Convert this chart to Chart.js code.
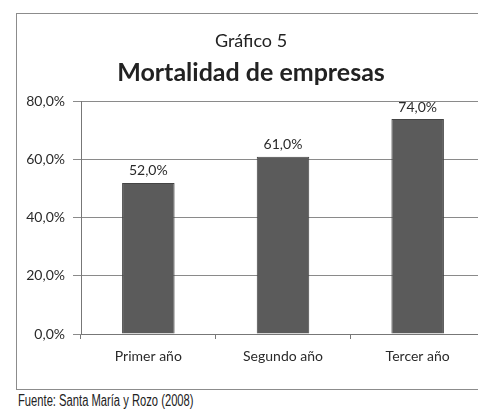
<!DOCTYPE html>
<html>
<head>
<meta charset="utf-8">
<script src="https://cdn.jsdelivr.net/npm/chart.js@4/dist/chart.umd.min.js"></script>
<style>
    html, body { margin: 0; padding: 0; background: #ffffff; overflow: hidden; }
    body { width: 478px; height: 412px; position: relative; }
    #box {
        position: absolute; left: 16px; top: 13px; width: 472px; height: 375px;
        border-left: 1px solid #8c8c8c; border-top: 1px solid #8c8c8c; border-bottom: 1px solid #8c8c8c;
    }
    #source {
        position: absolute; left: 18px; top: 392px; white-space: nowrap;
        font-family: "Liberation Sans", Arial, sans-serif; font-size: 16px; color: #222;
        transform: scaleX(0.7); transform-origin: left center;
    }
</style>
</head>
<body>
<div id="box"><canvas id="mortalidad-chart" width="472" height="375"></canvas></div>
<div id="source">Fuente: Santa María y Rozo (2008)</div>
<script>
    const categories = ['Primer año', 'Segundo año', 'Tercer año'];
    const mortalidad = [52.0, 61.0, 74.0];
    const yTicks = [0, 20, 40, 60, 80];

    const FONT = 'Lato, "Open Sans", sans-serif';

    function formatPct(v) {
        return v.toFixed(1).replace('.', ',') + '%';
    }

    // etiquetas de valor encima de cada barra
    const valueLabels = {
        id: 'valueLabels',
        afterDatasetsDraw(chart) {
            const ctx = chart.ctx;
            const meta = chart.getDatasetMeta(0);
            ctx.save();
            ctx.font = '14px ' + FONT;
            ctx.fillStyle = '#2a2a2a';
            ctx.textAlign = 'center';
            ctx.textBaseline = 'bottom';
            meta.data.forEach((bar, i) => {
                ctx.fillText(formatPct(mortalidad[i]), bar.x, bar.y - 5);
            });
            ctx.restore();
        }
    };

    new Chart(document.getElementById('mortalidad-chart'), {
        type: 'bar',
        data: {
            labels: categories,
            datasets: [{
                data: mortalidad,
                backgroundColor: '#5b5b5b',
                borderColor: '#444444',
                borderWidth: 1,
                barPercentage: 0.39,
                categoryPercentage: 1,
            }],
        },
        options: {
            responsive: false,
            animation: false,
            layout: { padding: { left: 0, right: 4, top: 0, bottom: 0 } },
            plugins: {
                legend: { display: false },
                tooltip: { enabled: false },
                title: {
                    display: true,
                    text: 'Gráfico 5',
                    color: '#222',
                    font: { family: FONT, size: 18, weight: 'normal' },
                    padding: { top: 16, bottom: 6 },
                },
                subtitle: {
                    display: true,
                    text: 'Mortalidad de empresas',
                    color: '#222',
                    font: { family: FONT, size: 25, weight: 'bold' },
                    padding: { top: 0, bottom: 14 },
                },
            },
            scales: {
                x: {
                    offset: true,
                    grid: { display: true, drawOnChartArea: false, offset: true, tickLength: 5, color: '#777' },
                    border: { color: '#777', width: 1 },
                    ticks: { color: '#2a2a2a', font: { family: FONT, size: 14 }, padding: 9 },
                    afterFit(scale) { scale.height = 55; },
                },
                y: {
                    min: 0,
                    max: 80,
                    afterBuildTicks(scale) { scale.ticks = yTicks.map((v) => ({ value: v })); },
                    grid: { color: '#8a8a8a', tickLength: 8 },
                    border: { color: '#777', width: 1 },
                    ticks: { color: '#2a2a2a', font: { family: FONT, size: 14 }, padding: 8, callback: (v) => formatPct(v) },
                    afterFit(scale) { scale.width = 64; },
                },
            },
        },
        plugins: [valueLabels],
    });
</script>
</body>
</html>
